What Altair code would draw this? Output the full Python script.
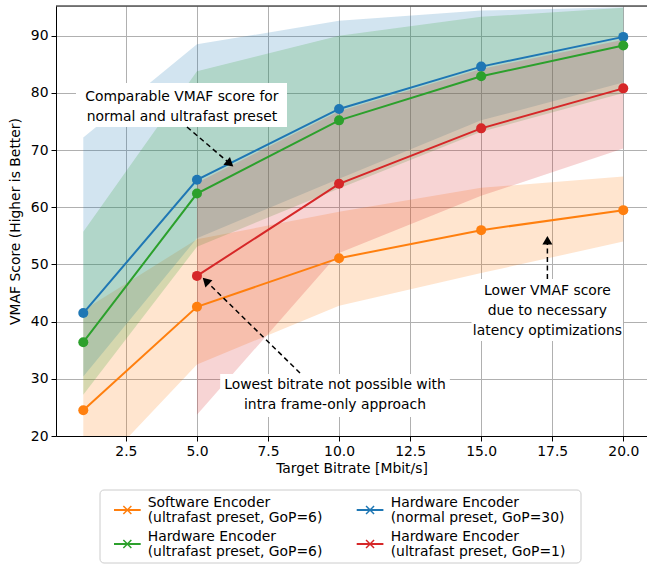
import math
import altair as alt
import pandas as pd

# ---------------- data ----------------
bitrates = [1, 5, 10, 15, 20]

series_names = [
    "Software Encoder\n(ultrafast preset, GoP=6)",
    "Hardware Encoder\n(normal preset, GoP=30)",
    "Hardware Encoder\n(ultrafast preset, GoP=6)",
    "Hardware Encoder\n(ultrafast preset, GoP=1)",
]
series_colors = ["#ff7f0e", "#1f77b4", "#2ca02c", "#d62728"]
legend_col = [0, 1, 0, 1]
legend_row = [0, 0, 1, 1]

sw_mean = [24.5, 42.6, 51.1, 56.0, 59.5]
sw_low = [11.5, 32.5, 42.8, 48.5, 54.0]
sw_high = [42.0, 54.4, 59.2, 63.4, 65.4]

hwn_mean = [41.5, 64.8, 77.2, 84.6, 89.8]
hwn_low = [30.4, 54.6, 65.0, 75.2, 81.8]
hwn_high = [72.2, 88.5, 92.6, 94.4, 95.0]

hw6_mean = [36.4, 62.4, 75.2, 82.9, 88.3]
hw6_low = [27.2, 53.1, 63.3, 73.2, 80.0]
hw6_high = [55.7, 83.8, 90.0, 93.3, 94.9]

hw1_mean = [None, 48.0, 64.1, 73.8, 80.8]
hw1_low = [None, 23.7, 52.0, 62.0, 70.3]
hw1_high = [None, 64.3, 76.8, 84.2, 89.3]

x_ticks = [2.5, 5.0, 7.5, 10.0, 12.5, 15.0, 17.5, 20.0]
y_ticks = [20, 30, 40, 50, 60, 70, 80, 90]

# annotations (data coordinates; y = centre of the first text line)
ann_text = [
    "Comparable VMAF score for\nnormal and ultrafast preset",
    "Lowest bitrate not possible with\nintra frame-only approach",
    "Lower VMAF score\ndue to necessary\nlatency optimizations",
]
ann_x = [4.47, 9.857, 17.33]
ann_y = [79.29, 28.92, 45.36]
box_x1 = [0.743, 5.817, 14.66]
box_x2 = [8.168, 13.90, 19.99]
box_y1 = [81.74, 30.84, 47.46]
box_y2 = [74.04, 23.32, 36.61]
arrow_tail_x = [4.649, 8.625, 17.33]
arrow_tail_y = [74.04, 31.02, 47.46]
arrow_tip_x = [6.257, 5.222, 17.33]
arrow_tip_y = [67.22, 47.58, 54.85]

# ---------------- layout (pixels) ----------------
XD = [0.04, 20.835]
YD = [20.0, 95.2]
W = 591
H = 430
PADL, PADT = 56, 6
FONT = "DejaVu Sans"
FS = 13.9

sx = W / (XD[1] - XD[0])
sy = H / (YD[1] - YD[0])


def px2x(px):
    return XD[0] + (px - PADL) / sx


def py2y(py):
    return YD[1] - (py - PADT) / sy


# legend layout in page pixels
LEG_BOX = (100, 490, 581, 563)
LEG_SYM_X = [114, 356.7]
LEG_SYM_W = 26.7
LEG_LAB_X = [147.7, 390.7]
LEG_SYM_Y = [510, 544]
LEG_LAB_Y = [507.3, 541.3]
LEG_LINE_H = 14.6

rows = []
for name, m, lo, hi in zip(
    series_names,
    [sw_mean, hwn_mean, hw6_mean, hw1_mean],
    [sw_low, hwn_low, hw6_low, hw1_low],
    [sw_high, hwn_high, hw6_high, hw1_high],
):
    for x, a, b, c in zip(bitrates, m, lo, hi):
        if a is None:
            continue
        rows.append({"series": name, "x": x, "y": a, "lo": b, "hi": c})
df = pd.DataFrame(rows)

ann_rows, arrow_rows = [], []
for i in range(len(ann_text)):
    ann_rows.append({"t": ann_text[i], "x": ann_x[i], "y": ann_y[i],
                     "bx1": box_x1[i], "bx2": box_x2[i], "by1": box_y1[i], "by2": box_y2[i]})
    dxp = (arrow_tip_x[i] - arrow_tail_x[i]) * sx
    dyp = -(arrow_tip_y[i] - arrow_tail_y[i]) * sy
    L = math.hypot(dxp, dyp)
    ux, uy = dxp / L, dyp / L
    ang = math.degrees(math.atan2(dxp, -dyp)) % 360
    back = 5.0
    hx = arrow_tip_x[i] - ux * back / sx
    hy = arrow_tip_y[i] + uy * back / sy
    arrow_rows.append({"x": arrow_tail_x[i], "y": arrow_tail_y[i],
                       "x2": hx, "y2": hy, "hx": hx, "hy": hy, "ang": ang})
ann_df = pd.DataFrame(ann_rows)
arrow_df = pd.DataFrame(arrow_rows)

leg_rows = []
for name, c, r in zip(series_names, legend_col, legend_row):
    leg_rows.append({
        "series": name,
        "lx1": px2x(LEG_SYM_X[c]), "lx2": px2x(LEG_SYM_X[c] + LEG_SYM_W),
        "mx": px2x(LEG_SYM_X[c] + LEG_SYM_W / 2), "ly": py2y(LEG_SYM_Y[r]),
        "tx": px2x(LEG_LAB_X[c]), "ty": py2y(LEG_LAB_Y[r]),
    })
leg_df = pd.DataFrame(leg_rows)
legbox_df = pd.DataFrame([{
    "x1": px2x(LEG_BOX[0]), "x2": px2x(LEG_BOX[2]),
    "y1": py2y(LEG_BOX[1]), "y2": py2y(LEG_BOX[3]),
}])

xscale = alt.Scale(domain=XD, nice=False, zero=False)
yscale = alt.Scale(domain=YD, nice=False, zero=False)
cscale = alt.Scale(domain=series_names, range=series_colors)

axis_common = dict(
    grid=True, gridColor="#b0b0b0", gridWidth=1, tickSize=5, tickColor="black",
    tickWidth=1, domainColor="black", domainWidth=1, labelFontSize=FS, titleFontSize=FS,
    labelFont=FONT, titleFont=FONT, titleFontWeight="normal", labelColor="black",
    titleColor="black", labelFlush=False, labelOverlap=False, labelPadding=3,
)
X_AX = alt.Axis(values=x_ticks, format=".1f", title="Target Bitrate [Mbit/s]",
                titlePadding=4, **axis_common)
Y_AX = alt.Axis(values=y_ticks, format="d", title="VMAF Score (Higher is Better)",
                titlePadding=8, **axis_common)


def X(f):
    return alt.X(f, scale=xscale, axis=X_AX)


def Y(f):
    return alt.Y(f, scale=yscale, axis=Y_AX)


areas = alt.Chart(df).mark_area(opacity=0.2, clip=True).encode(
    x=X("x:Q"), y=Y("lo:Q"), y2=alt.Y2("hi:Q"),
    fill=alt.Fill("series:N", scale=cscale, legend=None),
)

lines = alt.Chart(df).mark_line(strokeWidth=2, clip=True).encode(
    x=X("x:Q"), y=Y("y:Q"),
    color=alt.Color("series:N", scale=cscale, legend=None),
)

points = alt.Chart(df).mark_circle(size=100, opacity=1).encode(
    x=X("x:Q"), y=Y("y:Q"),
    fill=alt.Fill("series:N", scale=cscale, legend=None),
)

top_rule = alt.Chart(alt.Data(values=[{}])).mark_rule(color="black", strokeWidth=1).encode(
    x=alt.value(0), x2=alt.value(W), y=alt.value(0)
)

boxes = alt.Chart(ann_df).mark_rect(fill="white", opacity=1).encode(
    x=X("bx1:Q"), x2="bx2:Q", y=Y("by1:Q"), y2="by2:Q",
)

texts = alt.Chart(ann_df).mark_text(
    font=FONT, fontSize=FS, color="black", align="center", baseline="middle",
    lineBreak="\n", lineHeight=20,
).encode(x=X("x:Q"), y=Y("y:Q"), text="t:N")

arrows = alt.Chart(arrow_df).mark_rule(color="black", strokeWidth=1.5, strokeDash=[5, 3.5]).encode(
    x=X("x:Q"), x2="x2:Q", y=Y("y:Q"), y2="y2:Q",
)

heads = alt.Chart(arrow_df).mark_point(shape="triangle", filled=True, size=100,
                                        color="black", opacity=1).encode(
    x=X("hx:Q"), y=Y("hy:Q"), angle=alt.Angle("ang:Q", scale=None),
)

# legend (drawn with the chart's own colour scale)
leg_box = alt.Chart(legbox_df).mark_rect(
    fill="white", stroke="#cccccc", strokeWidth=1, cornerRadius=4, opacity=1
).encode(x=X("x1:Q"), x2="x2:Q", y=Y("y1:Q"), y2="y2:Q")

leg_lines = alt.Chart(leg_df).mark_rule(strokeWidth=2).encode(
    x=X("lx1:Q"), x2="lx2:Q", y=Y("ly:Q"),
    color=alt.Color("series:N", scale=cscale, legend=None),
)

leg_marks = alt.Chart(leg_df).mark_point(
    shape="M-1,-1L1,1M-1,1L1,-1", size=64, filled=False, strokeWidth=1.5, opacity=1
).encode(
    x=X("mx:Q"), y=Y("ly:Q"),
    color=alt.Color("series:N", scale=cscale, legend=None),
)

leg_text = alt.Chart(leg_df).mark_text(
    font=FONT, fontSize=FS, color="black", align="left", baseline="alphabetic",
    lineBreak="\n", lineHeight=LEG_LINE_H,
).encode(x=X("tx:Q"), y=Y("ty:Q"), text="series:N")

chart = alt.layer(
    areas, lines, points, top_rule, boxes, arrows, heads, texts,
    leg_box, leg_lines, leg_marks, leg_text,
).properties(
    width=W, height=H,
    padding={"left": PADL, "top": PADT, "right": 0, "bottom": 564 - PADT - H},
    autosize=alt.AutoSizeParams(type="none"),
).configure_view(stroke=None).configure(font=FONT, background="white")

chart.save("out.html", embed_options={"renderer": "svg", "actions": False})
